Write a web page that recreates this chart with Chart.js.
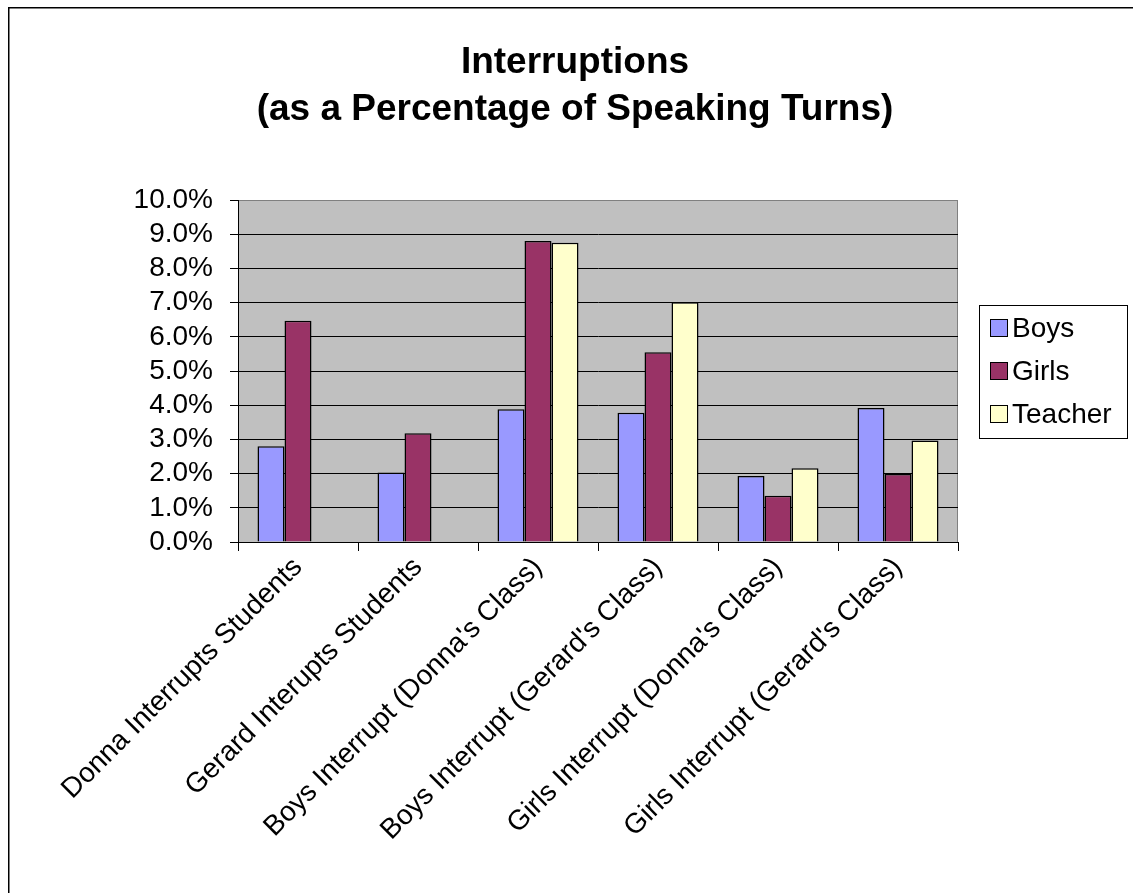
<!DOCTYPE html>
<html>
<head>
<meta charset="utf-8">
<script src="https://cdn.jsdelivr.net/npm/chart.js@4.4.1/dist/chart.umd.min.js"></script>
<style>
  html, body { margin: 0; padding: 0; background: #fff; }
  canvas { display: block; }
</style>
</head>
<body>
<canvas id="chart" width="1133" height="893"></canvas>
<script>
// Interruptions as a percentage of speaking turns
const categories = [
  "Donna Interrupts Students",
  "Gerard Interupts Students",
  "Boys Interrupt (Donna's Class)",
  "Boys Interrupt (Gerard's Class)",
  "Girls Interrupt (Donna's Class)",
  "Girls Interrupt (Gerard's Class)"
];
const boys    = [2.80, 2.03, 3.88, 3.78, 1.93, 3.92];
const girls   = [6.47, 3.18, 8.80, 5.55, 1.35, 1.99];
const teacher = [null, null, 8.75, 7.01, 2.16, 2.97];
const yTickLabels = ['0.0%', '1.0%', '2.0%', '3.0%', '4.0%', '5.0%', '6.0%', '7.0%', '8.0%', '9.0%', '10.0%'];
const titleLines = ['Interruptions', '(as a Percentage of Speaking Turns)'];

const FONT = 'Arial, "Liberation Sans", sans-serif';

// Grey plot background, plot frame and the outer chart border
const plotFrame = {
  id: 'plotFrame',
  beforeDraw(chart) {
    const { ctx, chartArea: a } = chart;
    ctx.save();
    ctx.fillStyle = '#ffffff';
    ctx.fillRect(0, 0, chart.width, chart.height);
    ctx.fillStyle = '#c0c0c0';
    ctx.fillRect(a.left, a.top, a.right - a.left, a.bottom - a.top);
    ctx.strokeStyle = '#808080';
    ctx.lineWidth = 1;
    ctx.beginPath();
    ctx.moveTo(a.left, a.top + 0.5);
    ctx.lineTo(a.right - 0.5, a.top + 0.5);
    ctx.lineTo(a.right - 0.5, a.bottom);
    ctx.stroke();
    ctx.strokeStyle = '#000000';
    ctx.lineWidth = 1.5;
    ctx.strokeRect(8.75, 7.75, chart.width + 20, chart.height + 20);
    ctx.restore();
  }
};

// Boxed legend to the right of the plot
const boxLegend = {
  id: 'boxLegend',
  afterDraw(chart) {
    const { ctx, chartArea: a } = chart;
    const sets = chart.data.datasets;
    const step = 43, sw = 18;
    const cy = (a.top + a.bottom) / 2;
    const x0 = a.right + 21;
    const frameW = 148, frameH = 133;
    ctx.save();
    ctx.strokeStyle = '#000';
    ctx.lineWidth = 1;
    ctx.strokeRect(x0 + 0.5, Math.round(cy - frameH / 2) + 0.5, frameW, frameH);
    ctx.font = '28px ' + FONT;
    ctx.textBaseline = 'middle';
    sets.forEach((ds, i) => {
      const y = Math.round(cy + (i - (sets.length - 1) / 2) * step);
      ctx.fillStyle = ds.backgroundColor;
      ctx.fillRect(x0 + 11, y - sw / 2, sw, sw);
      ctx.strokeStyle = '#000';
      ctx.strokeRect(x0 + 11.5, y - sw / 2 + 0.5, sw - 1, sw - 1);
      ctx.fillStyle = '#000';
      ctx.fillText(ds.label, x0 + 33, y + 1);
    });
    ctx.restore();
  }
};

const barStyle = {
  borderColor: '#000000',
  borderWidth: 1.5,
  categoryPercentage: 0.675,
  barPercentage: 1.0
};

new Chart(document.getElementById('chart'), {
  type: 'bar',
  data: {
    labels: categories,
    datasets: [
      Object.assign({ label: 'Boys', data: boys, backgroundColor: '#9999FF' }, barStyle),
      Object.assign({ label: 'Girls', data: girls, backgroundColor: '#993366' }, barStyle),
      Object.assign({ label: 'Teacher', data: teacher, backgroundColor: '#FFFFCC' }, barStyle)
    ]
  },
  options: {
    responsive: false,
    animation: false,
    devicePixelRatio: 1,
    layout: { padding: { left: 17, right: 0, top: 0, bottom: 0 } },
    plugins: {
      legend: { display: false },
      tooltip: { enabled: false },
      title: {
        display: true,
        text: titleLines,
        color: '#000',
        font: { family: FONT, size: 37, weight: 'bold', lineHeight: 47 / 37 },
        padding: { top: 39, bottom: 67 }
      }
    },
    scales: {
      x: {
        grid: { offset: true, drawOnChartArea: false, tickLength: 9, tickColor: '#000', tickWidth: 1 },
        border: { color: '#000', width: 1 },
        ticks: {
          color: '#000',
          font: { family: FONT, size: 28 },
          minRotation: 45,
          maxRotation: 45,
          autoSkip: false,
          padding: 0
        },
        afterFit(scale) { scale.height = 351; }
      },
      y: {
        min: 0,
        max: 10,
        ticks: {
          stepSize: 1,
          autoSkip: false,
          color: '#000',
          font: { family: FONT, size: 28, lineHeight: 1 },
          padding: 17,
          callback: (v, i) => yTickLabels[i]
        },
        grid: {
          color: c => (c.tick && c.tick.value === 10) ? '#808080' : '#000000',
          tickColor: '#000',
          tickLength: 8,
          lineWidth: 1
        },
        border: { color: '#000', width: 1 },
        afterFit(scale) { scale.width = 221; }
      },
      // room on the right for the boxed legend
      legendSpace: {
        type: 'linear',
        position: 'right',
        display: true,
        grid: { display: false },
        ticks: { display: false },
        border: { display: false },
        afterFit(scale) { scale.width = 175; }
      }
    }
  },
  plugins: [plotFrame, boxLegend]
});
</script>
</body>
</html>
